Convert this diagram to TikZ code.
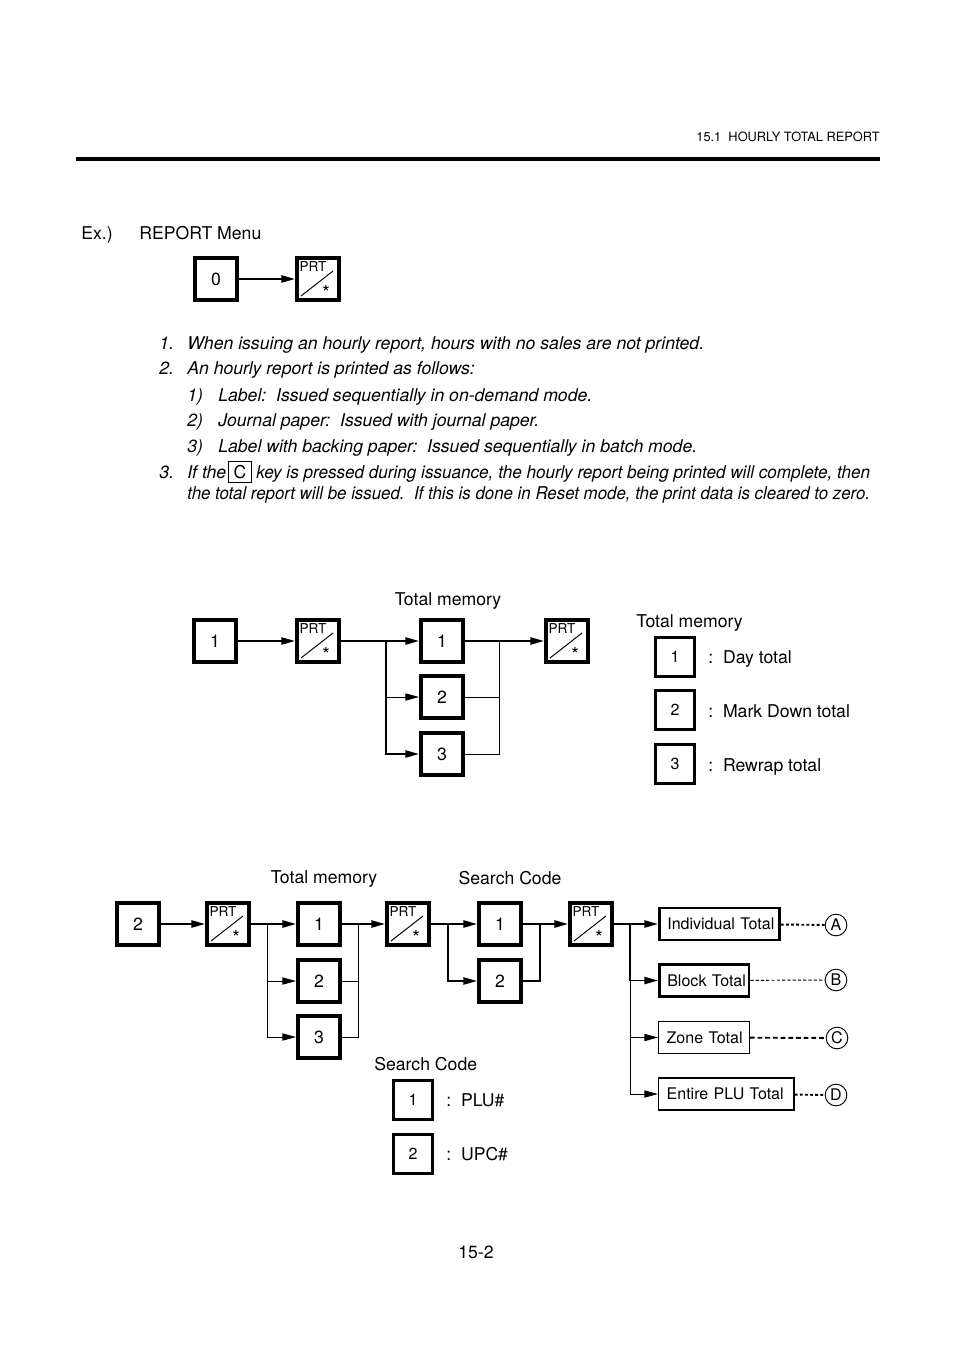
\documentclass[tikz,border=0pt]{standalone}
\usepackage{fontspec}
\usepackage{graphicx}
\setmainfont{TeX Gyre Heros}
\usetikzlibrary{arrows.meta,calc}
\begin{document}
\begin{tikzpicture}[x=0.624pt,y=-0.624pt,
  every node/.style={inner sep=0pt, font=\fontsize{11}{13}\selectfont},
  key/.style={draw, line width=2.4pt, minimum size=26.3pt},
  lkey/.style={draw, line width=2.2pt, minimum size=24.6pt, font=\fontsize{10}{12}\selectfont},
  prt/.style={key, path picture={
      \draw[line width=0.6pt] ($(path picture bounding box.center)+(-17,17)$) -- ($(path picture bounding box.center)+(15,-8)$);
      \node[font=\fontsize{8.5}{9}\selectfont] at ($(path picture bounding box.center)+(-5,-12)$) {PRT};
      \node[font=\fontsize{12}{13}\selectfont] at ($(path picture bounding box.center)+(8,13)$) {*};
  }},
  arr/.style={-{Triangle[length=8.5pt,width=4.5pt]}},
  mainln/.style={line width=1.1pt},
  thinln/.style={line width=0.6pt},
  itf/.style={font=\fontsize{11}{13}\selectfont\itshape},
  res/.style={draw, anchor=west, minimum height=20pt, inner xsep=5pt, align=left, font=\fontsize{10}{12}\selectfont},
  circ/.style={draw, circle, line width=0.6pt, minimum size=13.5pt, font=\fontsize{10}{12}\selectfont}
]
\useasboundingbox (0,0) rectangle (954,1348);

% header
\node[anchor=base east, font=\fontsize{8}{9}\selectfont] (hdr) at (880,141) {15.1\ \ HOURLY TOTAL REPORT};
\coordinate (hl) at (76,159);
\coordinate (hr) at (880,159);
\draw[line width=1.9pt] (hl) -- (hr);

% Ex.
\node[anchor=base west] (ex) at (81,239) {Ex.)};
\node[anchor=base west] (rm) at (139,239) {REPORT Menu};
\node[key] (k0) at (216,279) {0};
\node[prt] (p0) at (318,279) {};
\draw[mainln,arr] (k0) -- (p0);

% notes
\node[anchor=base west, itf] (n1a) at (159,349) {1.};
\node[anchor=base west, itf] (n1b) at (187,349) {When issuing an hourly report, hours with no sales are not printed.};
\node[anchor=base west, itf] (n2a) at (159,374) {2.};
\node[anchor=base west, itf] (n2b) at (187,374) {An hourly report is printed as follows:};
\node[anchor=base west, itf] (n21a) at (187,401) {1)};
\node[anchor=base west, itf] (n21b) at (218,401) {Label:\ \ Issued sequentially in on-demand mode.};
\node[anchor=base west, itf] (n22a) at (187,426) {2)};
\node[anchor=base west, itf] (n22b) at (218,426) {Journal paper:\ \ Issued with journal paper.};
\node[anchor=base west, itf] (n23a) at (187,452) {3)};
\node[anchor=base west, itf] (n23b) at (218,452) {Label with backing paper:\ \ Issued sequentially in batch mode.};
\node[anchor=base west, itf] (n3a) at (159,478) {3.};
\node[anchor=base west, itf] (n3b) at (187,478) {If the};
\node[draw, line width=0.6pt, minimum width=14pt, minimum height=13pt] (ckey) at (240,472) {C};
\node[anchor=base west, itf] (n3c) at (256,478) {\resizebox{383pt}{\height}{key is pressed during issuance, the hourly report being printed will complete, then}};
\node[anchor=base west, itf] (n3d) at (187,499) {\resizebox{426pt}{\height}{the total report will be issued.\ \ If this is done in Reset mode, the print data is cleared to zero.}};

% diagram 1
\node[anchor=base] (tm1) at (448,605) {Total memory};
\node[key] (k1) at (215,641) {1};
\node[prt] (p1) at (318,641) {};
\node[key] (m1) at (442,641) {1};
\node[key] (m2) at (442,697) {2};
\node[key] (m3) at (442,754) {3};
\node[prt] (p2) at (567,641) {};
\coordinate (j1) at (386,641);
\coordinate (r1) at (499,641);
\draw[mainln,arr] (k1) -- (p1);
\draw[mainln] (p1) -- (j1);
\draw[mainln,arr] (j1) -- (m1);
\draw[thinln,arr] (j1) |- (m2);
\draw[mainln,arr] (j1) |- (m3);
\draw[mainln,arr] (m1) -- (r1) -- (p2);
\draw[thinln] (m2) -| (r1);
\draw[thinln] (m3) -| (r1);

% legend 1
\node[anchor=base west] (lt1) at (636,627) {Total memory};
\node[lkey] (l1) at (675,657) {1};
\node[lkey] (l2) at (675,710) {2};
\node[lkey] (l3) at (675,764) {3};
\node[anchor=base west] (ld1) at (708,663) {:\ \ Day total};
\node[anchor=base west] (ld2) at (708,717) {:\ \ Mark Down total};
\node[anchor=base west] (ld3) at (708,771) {:\ \ Rewrap total};

% diagram 2
\node[anchor=base] (tm2) at (324,883) {Total memory};
\node[anchor=base] (sc2) at (510,884) {Search Code};
\node[key] (k2) at (138,924) {2};
\node[prt] (q1) at (228,924) {};
\node[key] (o1) at (319,924) {1};
\node[key] (o2) at (319,981) {2};
\node[key] (o3) at (319,1037) {3};
\node[prt] (q2) at (408,924) {};
\node[key] (s1) at (500,924) {1};
\node[key] (s2) at (500,981) {2};
\node[prt] (q3) at (591,924) {};
\coordinate (j2) at (267,924);
\coordinate (r2) at (358,924);
\coordinate (j3) at (448,924);
\coordinate (r3) at (540,924);
\coordinate (j4) at (630,924);
\draw[mainln,arr] (k2) -- (q1);
\draw[mainln] (q1) -- (j2);
\draw[mainln,arr] (j2) -- (o1);
\draw[thinln,arr] (j2) |- (o2);
\draw[thinln,arr] (j2) |- (o3);
\draw[mainln,arr] (o1) -- (r2) -- (q2);
\draw[thinln] (o2) -| (r2);
\draw[thinln] (o3) -| (r2);
\draw[mainln] (q2) -- (j3);
\draw[mainln,arr] (j3) -- (s1);
\draw[mainln,arr] (j3) |- (s2);
\draw[mainln,arr] (s1) -- (r3) -- (q3);
\draw[mainln] (s2) -| (r3);

% results
\node[res, line width=1.6pt, text width=65pt] (ra) at (658,924) {\mbox{Individual Total}};
\node[res, line width=1.6pt, text width=46pt] (rb) at (658,980.5) {\mbox{Block Total}};
\node[res, line width=0.8pt, text width=46.5pt] (rc) at (658,1037.5) {\mbox{Zone Total}};
\node[res, line width=0.8pt, text width=74.5pt] (rd) at (658,1094) {\mbox{Entire PLU Total}};
\draw[mainln] (q3) -- (j4);
\draw[mainln,arr] (j4) -- (ra);
\draw[mainln,arr] (j4) |- (rb);
\draw[thinln,arr] (j4) |- (rc);
\draw[thinln,arr] (j4) |- (rd);

\node[circ] (ca) at (836,925) {A};
\node[circ] (cb) at (836,980) {B};
\node[circ] (cc) at (837,1038) {C};
\node[circ] (cd) at (836,1095) {D};
\draw[line width=1.2pt, dash pattern=on 1.8pt off 1.4pt] (ra) -- (ca);
\draw[line width=0.6pt, dash pattern=on 2pt off 1.3pt] (rb) -- (cb);
\draw[line width=1.2pt, dash pattern=on 3pt off 1.8pt] (rc) -- (cc);
\draw[line width=1.2pt, dash pattern=on 1.8pt off 1.4pt] (rd) -- (cd);

% legend 2
\node[anchor=base west] (ls2) at (374,1070) {Search Code};
\node[lkey] (t1) at (413,1100) {1};
\node[lkey] (t2) at (413,1154) {2};
\node[anchor=base west] (lp1) at (446,1106) {:\ \ PLU\#};
\node[anchor=base west] (lp2) at (446,1160) {:\ \ UPC\#};

% footer
\node[anchor=base] (ftr) at (476,1258) {15-2};
\end{tikzpicture}
\end{document}
